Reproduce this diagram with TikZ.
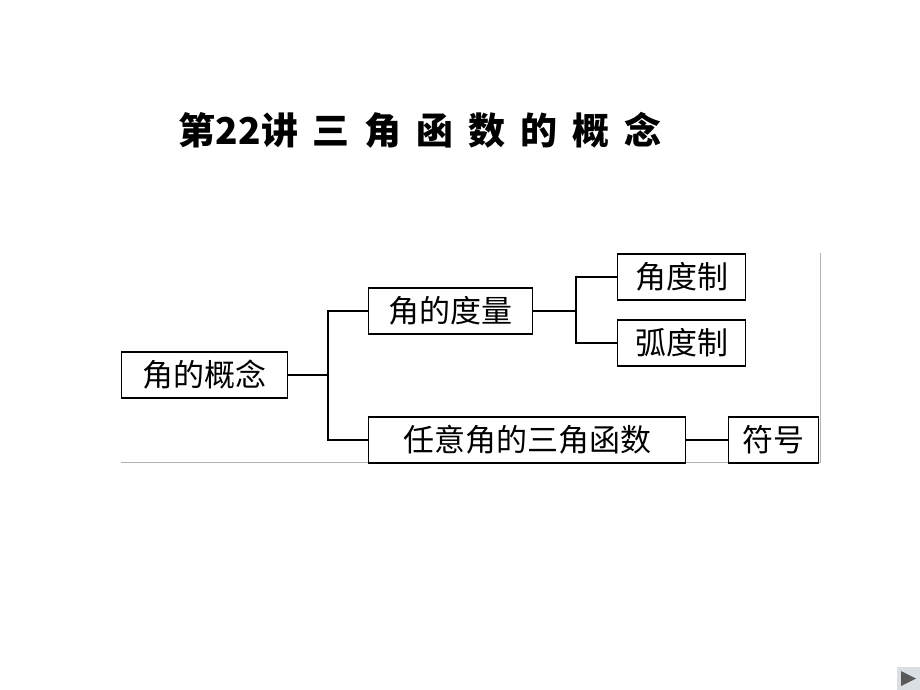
\documentclass[tikz,border=0pt]{standalone}
\usepackage{fontspec}
\newfontfamily\cjk{Noto Sans CJK SC}
\usetikzlibrary{positioning}
\begin{document}
\begin{tikzpicture}[x=1pt, y=-1pt,
    every node/.style={font=\cjk\fontsize{31}{34}\selectfont, inner sep=0pt},
    conbox/.style={draw=black, line width=1.2pt, minimum height=46pt, anchor=west, inner xsep=5pt},
    link/.style={line width=1.2pt}
]
\useasboundingbox (0,0) rectangle (920,690);

% Title
\node[font=\cjk\bfseries\fontsize{37}{40}\selectfont] (title) at (420,130)
    {第22讲\hspace{14pt}三\hspace{15pt}角\hspace{15pt}函\hspace{15pt}数\hspace{15pt}的\hspace{15pt}概\hspace{15pt}念};

% scan frame
\draw[gray!60, line width=1pt] (121,462) -- (820,462) -- (820,253);

% Boxes
\node[conbox, minimum width=166pt] (gainian) at (121,375) {角的概念};
\node[conbox, minimum width=164pt] (duliang) at (368,311) {角的度量};
\node[conbox, minimum width=128pt] (jiaodu) at (617,277) {角度制};
\node[conbox, minimum width=128pt] (hudu) at (617,343) {弧度制};
\node[conbox, minimum width=317pt] (renyi) at (368,440) {任意角的三角函数};
\node[conbox, minimum width=90pt] (fuhao) at (728,440) {符号};

% Connectors
\coordinate (j1) at (328,375);
\coordinate (j2) at (576,311);
\draw[link] (gainian.east) -- (j1);
\draw[link] (duliang.west) -| (j1) |- (renyi.west);
\draw[link] (duliang.east) -- (j2);
\draw[link] (jiaodu.west) -| (j2) |- (hudu.west);
\draw[link] (renyi.east) -- (fuhao.west);

% Navigation button
\node[fill=cyan!15!gray!30, minimum width=23pt, minimum height=23pt, anchor=north west] (navbtn) at (897,667) {};
\fill[gray!70!black] (901,671) -- (901,686) -- (916,678.5) -- cycle;
\end{tikzpicture}
\end{document}
